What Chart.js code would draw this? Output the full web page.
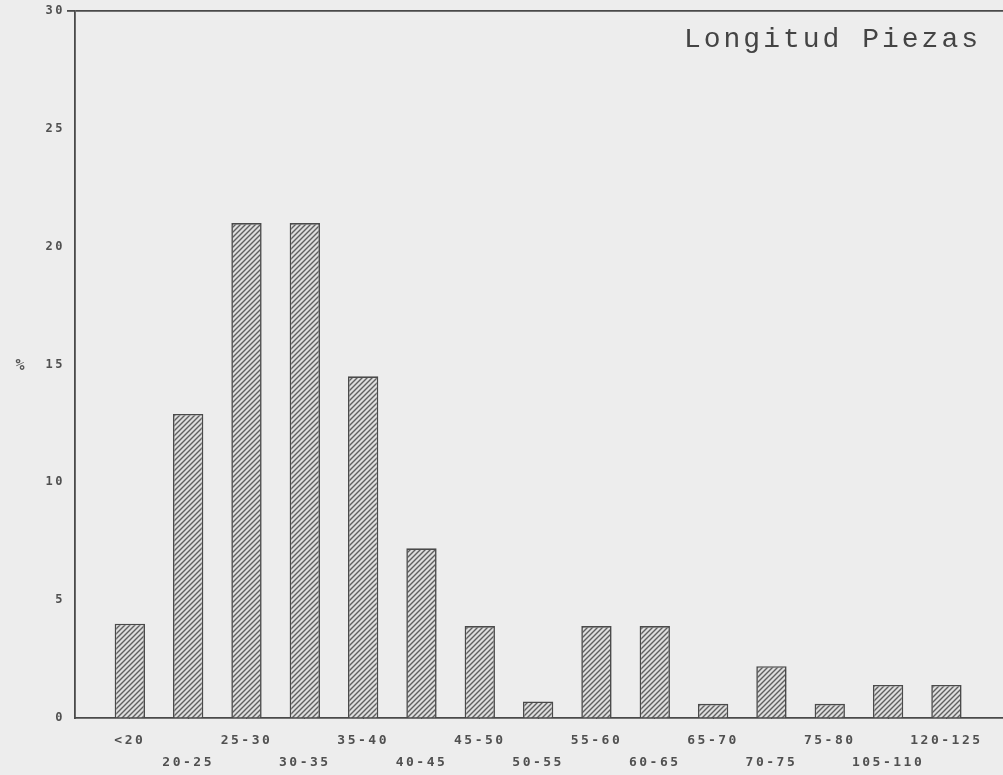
<!DOCTYPE html>
<html><head><meta charset="utf-8">
<script src="https://cdn.jsdelivr.net/npm/chart.js@4/dist/chart.umd.min.js"></script>
<style>html,body{margin:0;padding:0;background:#ededed;}#wrap{width:1003px;height:775px;position:relative;}</style>
</head><body><div id="wrap"><canvas id="c"></canvas></div>
<script>
const TITLE = 'Longitud Piezas';
const Y_LABEL = '%';
const CATEGORIES = ['<20','20-25','25-30','30-35','35-40','40-45','45-50','50-55','55-60','60-65','65-70','70-75','75-80','105-110','120-125'];
const VALUES = [4, 12.9, 21, 21, 14.5, 7.2, 3.9, 0.7, 3.9, 3.9, 0.6, 2.2, 0.6, 1.4, 1.4];
const Y_MIN = 0, Y_MAX = 30, Y_STEP = 5;

const INK = '#4a4a4a';
const hatch = (() => {
  const s = 5, c = document.createElement('canvas'); c.width = c.height = s;
  const g = c.getContext('2d');
  g.fillStyle = '#dedede'; g.fillRect(0,0,s,s);
  g.strokeStyle = '#606060'; g.lineWidth = 1.4;
  g.beginPath();
  g.moveTo(0, s); g.lineTo(s, 0);
  g.moveTo(-1, 1); g.lineTo(1, -1);
  g.moveTo(s-1, s+1); g.lineTo(s+1, s-1);
  g.stroke();
  return g.createPattern(c, 'repeat');
})();

const spacing = {
  id: 'spacing',
  beforeLayout(c){ c.ctx.letterSpacing = '2.5px'; },
  beforeDraw(c){ c.ctx.letterSpacing = '2.5px'; }
};
const overlayText = {
  id: 'overlayText',
  afterDraw(c){
    const ctx = c.ctx, a = c.chartArea;
    ctx.save();
    ctx.fillStyle = '#444';
    ctx.font = '28px "Liberation Mono"';
    ctx.letterSpacing = '3px';
    ctx.textAlign = 'right';
    ctx.textBaseline = 'alphabetic';
    ctx.fillText(TITLE, a.right - 22, a.top + 36);
    ctx.font = 'bold 15px "DejaVu Sans Mono"';
    ctx.fillStyle = '#555';
    ctx.letterSpacing = '0px';
    ctx.textAlign = 'center';
    ctx.textBaseline = 'middle';
    ctx.fillText(Y_LABEL, 20, (a.top + a.bottom) / 2 + 2);
    ctx.restore();
  }
};

new Chart(document.getElementById('c'), {
  type: 'bar',
  data: {
    datasets: [{
      data: VALUES.map((v, i) => ({x: i, y: v})),
      backgroundColor: hatch,
      borderColor: INK,
      borderWidth: 1.6,
      barPercentage: 0.52,
      categoryPercentage: 1
    }]
  },
  options: {
    responsive: true,
    maintainAspectRatio: false,
    animation: false,
    layout: {padding: {left: 0, right: 0, top: 11, bottom: 0}},
    plugins: {legend: {display: false}, tooltip: {enabled: false}, title: {display: false}},
    scales: {
      x: {
        type: 'linear',
        offset: false,
        min: -0.94,
        max: 14.97,
        afterBuildTicks: s => { s.ticks = CATEGORIES.map((_, i) => ({value: i})); },
        afterFit: s => { s.height = 57; },
        border: {display: true, color: INK, width: 1.8},
        grid: {display: true, offset: false, drawOnChartArea: false, drawTicks: true, tickLength: -4, color: INK, lineWidth: 1},
        ticks: {
          autoSkip: false, maxRotation: 0, minRotation: 0, padding: 16,
          color: '#505050',
          font: {family: '"DejaVu Sans Mono"', size: 13, weight: 'bold', lineHeight: 1.65},
          callback: (v) => { const i = Math.round(v); const l = CATEGORIES[i]; return l === undefined ? '' : (i % 2 === 0 ? [l] : ['', l]); }
        }
      },
      y: {
        min: Y_MIN, max: Y_MAX,
        afterFit: s => { s.width = 75; },
        border: {display: true, color: INK, width: 1.8},
        grid: {
          display: true, drawOnChartArea: true, drawTicks: true, tickLength: 8,
          color: ctx => (ctx.tick && ctx.tick.value === Y_MAX) ? INK : 'rgba(0,0,0,0)',
          lineWidth: ctx => (ctx.tick && ctx.tick.value === Y_MAX) ? 1.8 : 1
        },
        ticks: {
          stepSize: Y_STEP, padding: 2, color: '#505050',
          font: {family: '"DejaVu Sans Mono"', size: 12, weight: 'bold'}
        }
      }
    }
  },
  plugins: [spacing, overlayText]
});
</script></body></html>
